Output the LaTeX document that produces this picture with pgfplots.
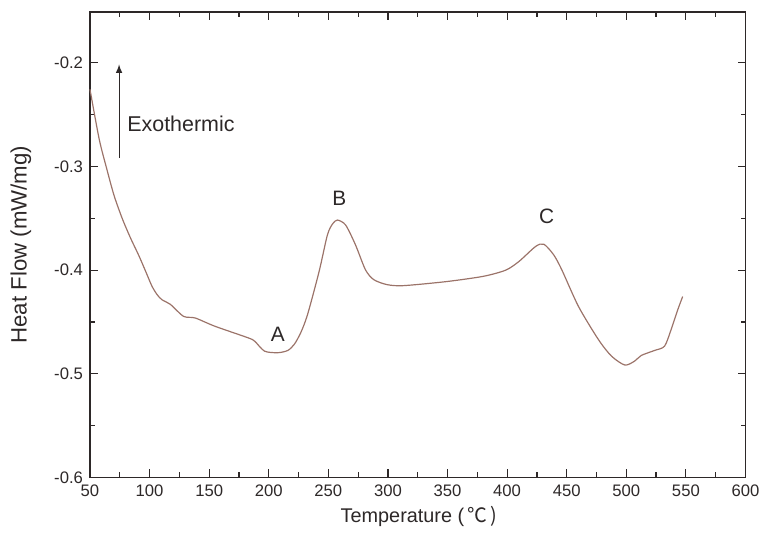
\documentclass[border=0pt]{standalone}
\usepackage{pgfplots}
\pgfplotsset{compat=1.18}
\usepackage{fontspec}
\setmainfont{Liberation Sans}
\newfontfamily\cjk{Noto Sans CJK SC}
\definecolor{curve}{RGB}{155,115,105}
\definecolor{axc}{RGB}{45,40,40}
\begin{document}
\begin{tikzpicture}
\begin{axis}[
  scale only axis, width=330.3pt, height=234.5pt,
  xmin=50, xmax=600, ymin=-0.6, ymax=-0.151,
  xtick={50,100,...,600}, minor x tick num=1,
  ytick={-0.6,-0.5,-0.4,-0.3,-0.2}, minor y tick num=1,
  yticklabels={-0.6,-0.5,-0.4,-0.3,-0.2},
  tick align=inside,
  major tick length=4pt, minor tick length=2.5pt,
  axis line style={axc, line width=0.8pt},
  every tick/.style={axc, line width=0.6pt},
  tick label style={font=\fontsize{8.4}{9}\selectfont, text=axc},
  /pgf/number format/assume math mode=true,
  xlabel={Temperature (\,\cjk ℃\,)},
  ylabel={Heat Flow (mW/mg)},
  xlabel style={font=\fontsize{10}{11}\selectfont, text=axc, at={(axis description cs:0.502,-0.083)}, anchor=center},
  ylabel style={font=\fontsize{11.2}{12}\selectfont, text=axc, at={(axis description cs:-0.1055,0.5)}, anchor=center},
  clip=false,
]
\path (axis cs:-25.5,-0.6604) rectangle (axis cs:612.3,-0.1394);
\addplot[curve, line width=0.6pt, smooth, tension=0.45] coordinates {
(50,-0.2256) (57.7,-0.2735) (64,-0.302) (70.2,-0.328) (77,-0.350)
(84,-0.369) (91,-0.386) (97,-0.402) (102,-0.4155) (106.3,-0.4236)
(110.4,-0.4286) (117.4,-0.433) (128.5,-0.4446) (138.3,-0.4462)
(154.9,-0.4542) (182.6,-0.4653) (188.2,-0.4686) (196.5,-0.4782) (207.6,-0.4797)
(216,-0.4775) (221.5,-0.4715) (227,-0.460) (232.6,-0.4427) (242.3,-0.4011)
(249.2,-0.3661) (253.5,-0.3555) (257.6,-0.3517) (264.5,-0.3565) (272.8,-0.3757)
(281.1,-0.3996) (288.1,-0.4092) (299.2,-0.414) (312.8,-0.415)
(348.9,-0.4111) (380,-0.4060) (398.9,-0.400) (410,-0.3916)
(423.9,-0.3772) (430.8,-0.375) (439.1,-0.3853) (446,-0.400) (459.9,-0.4351)
(476.6,-0.467) (487.6,-0.483) (498.8,-0.4916) (507.1,-0.4877) (512.6,-0.4823)
(523.8,-0.4775) (532.1,-0.4734) (537.6,-0.4574) (543.2,-0.4382) (547.3,-0.4255)
};
\node[font=\fontsize{10.5}{11}\selectfont, text=axc] at (axis cs:207.6,-0.462) {A};
\node[font=\fontsize{10.5}{11}\selectfont, text=axc] at (axis cs:259.3,-0.331) {B};
\node[font=\fontsize{10.5}{11}\selectfont, text=axc] at (axis cs:433.2,-0.348) {C};
\node[font=\fontsize{10.8}{11}\selectfont, text=axc, anchor=west, inner sep=0pt] at (axis cs:81,-0.259) {Exothermic};
\draw[-latex, axc, line width=0.5pt] (axis cs:74.4,-0.292) -- (axis cs:74.4,-0.2015);
\end{axis}
\end{tikzpicture}
\end{document}
